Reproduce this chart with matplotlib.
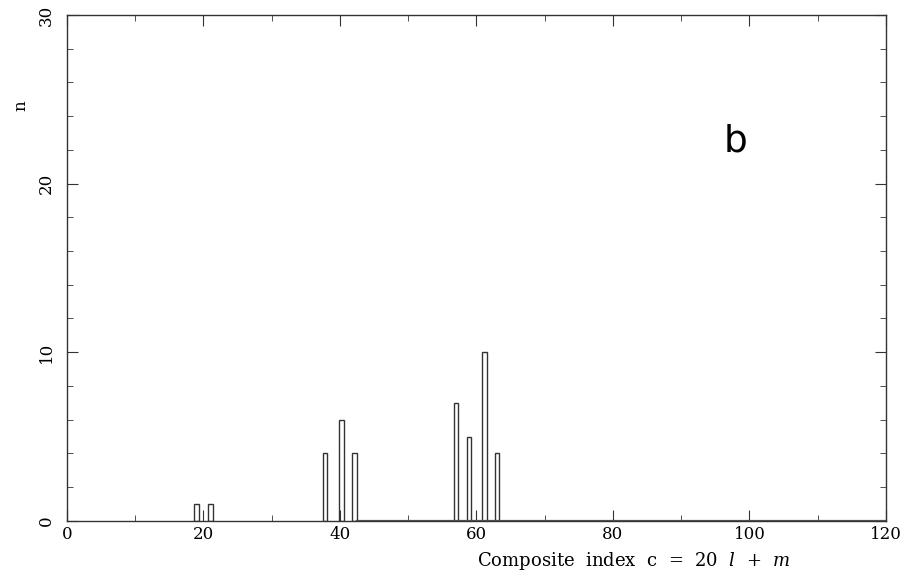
import numpy as np
import matplotlib
matplotlib.use("Agg")
import matplotlib.pyplot as plt
from matplotlib.ticker import MultipleLocator

# histogram values: composite index c and counts n
c_vals = [19, 21, 37.8, 40.2, 42.1, 57, 58.9, 61.2, 63]
n_vals = [1, 1, 4, 6, 4, 7, 5, 10, 4]

plt.rcParams['font.family'] = 'DejaVu Serif'
plt.rcParams['mathtext.fontset'] = 'dejavuserif'

fig = plt.figure(figsize=(9.18, 5.73), dpi=100)
ax = fig.add_axes([0.073, 0.091, 0.892, 0.883])

ax.bar(c_vals, n_vals, width=0.7, facecolor='white', edgecolor='#333333', linewidth=1.0)
# baseline of the histogram outline
ax.plot([42.5, 120], [0, 0], color='#555555', lw=1.6)

ax.set_xlim(0, 120)
ax.set_ylim(0, 30)
ax.xaxis.set_major_locator(MultipleLocator(20))
ax.xaxis.set_minor_locator(MultipleLocator(10))
ax.yaxis.set_major_locator(MultipleLocator(10))
ax.yaxis.set_minor_locator(MultipleLocator(2))
ax.tick_params(which='both', direction='in', top=True, right=True, color='#333333')
ax.tick_params(which='major', length=8, labelsize=12)
ax.tick_params(which='minor', length=4)
ax.tick_params(axis='y', which='major', pad=9)
for lab in ax.get_yticklabels():
    lab.set_rotation(90)
    lab.set_va('center')
for s in ax.spines.values():
    s.set_color('#333333')
    s.set_linewidth(1.0)

ax.set_xlabel('Composite  index  c  =  20  $l$  +  $m$', fontsize=13, x=0.692, labelpad=5)
ax.set_ylabel('n', fontsize=12, y=0.82, labelpad=6)

ax.text(98, 22.5, 'b', fontsize=27, family='DejaVu Sans', ha='center', va='center')

fig.savefig('out.png', dpi=100)
